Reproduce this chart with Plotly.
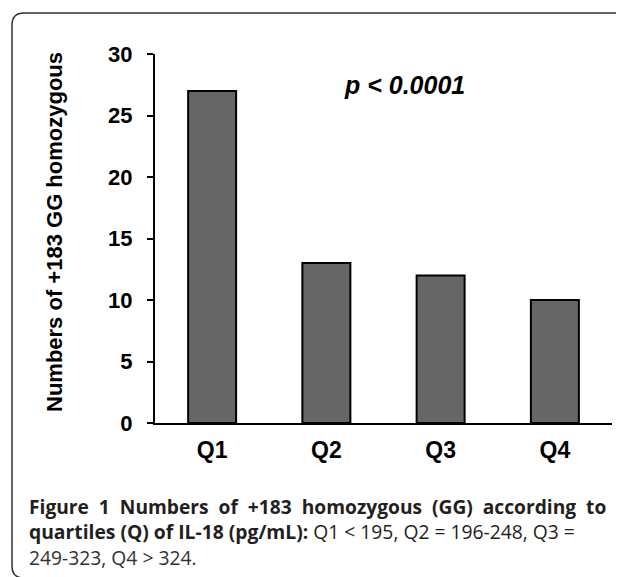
import plotly.graph_objects as go

categories = ["Q1", "Q2", "Q3", "Q4"]
counts = [27, 13, 12, 10]
y_ticks = [0, 5, 10, 15, 20, 25, 30]
y_title = "Numbers of +183 GG homozygous"
p_text = "p &lt; 0.0001"
caption_words_1 = ["Figure", "1", "Numbers", "of", "+183", "homozygous", "(GG)", "according", "to"]
caption_lines = [
    "<b>" + " &nbsp;".join(caption_words_1) + "</b>",
    "<b>quartiles (Q) of IL-18 (pg/mL):</b> Q1 &lt; 195, Q2 = 196-248, Q3 =",
    "249-323, Q4 &gt; 324.",
]

OFF = 8  # page body margin
W, H = 624 - OFF, 577 - OFF
L, R, T, B = 155 - OFF, 612 - OFF, 54 - OFF, 423 - OFF  # plot area in figure pixels
pw, ph = R - L, B - T

def px(x):  # x in screenshot pixels -> paper
    return (x - OFF - L) / pw

def py(y):
    return (B - (y - OFF)) / ph

fig = go.Figure()
fig.add_trace(go.Bar(
    x=list(range(len(categories))), y=counts, width=0.42,
    marker=dict(color="#666666", line=dict(color="#000000", width=2)),
))

arial = "Arial, Liberation Sans, sans-serif"
fig.update_layout(
    width=W, height=H,
    margin=dict(l=L, r=W - R, t=T, b=H - B, pad=0),
    plot_bgcolor="white", paper_bgcolor="white",
    showlegend=False,
    xaxis=dict(
        range=[-0.5, 3.5], tickmode="array",
        tickvals=list(range(len(categories))), ticktext=categories,
        showline=True, linecolor="black", linewidth=2, ticks="",
        showgrid=False, zeroline=False,
        tickfont=dict(family=arial, size=23, color="black", weight="bold"),
        ticklabelstandoff=5,
    ),
    yaxis=dict(
        range=[0, 30], tickmode="array", tickvals=y_ticks,
        showline=True, linecolor="black", linewidth=2,
        ticks="outside", ticklen=6, tickwidth=2, tickcolor="black",
        showgrid=False, zeroline=False,
        tickfont=dict(family=arial, size=22, color="black", weight="bold"),
        ticklabelstandoff=10,
    ),
)

fig.add_annotation(
    text="<b>" + y_title + "</b>", textangle=-90,
    x=px(55), y=py(232), xref="paper", yref="paper",
    xanchor="center", yanchor="middle", showarrow=False,
    font=dict(family=arial, size=22, color="black"),
)
fig.add_annotation(
    text="<b><i>" + p_text + "</i></b>",
    x=px(404), y=py(85), xref="paper", yref="paper",
    xanchor="center", yanchor="middle", showarrow=False,
    font=dict(family=arial, size=25, color="black"),
)
cap_y = [507, 531, 557]
cap_sizes = [19.2, 19.3, 19.3]
cap_colors = ["#231f20", "#231f20", "#333333"]
for line, yy, ss, cc in zip(caption_lines, cap_y, cap_sizes, cap_colors):
    fig.add_annotation(
        text=line, x=px(27), y=py(yy), xref="paper", yref="paper",
        xanchor="left", yanchor="middle", showarrow=False, align="left",
        font=dict(family="Open Sans, sans-serif", size=ss, color=cc),
    )

# rounded border
x0, y0, x1, y1, r = 12, 13, 640, 578, 12
path = (f"M {px(x0)},{py(y0 + r)} L {px(x0)},{py(y1 - r)} "
        f"Q {px(x0)},{py(y1)} {px(x0 + r)},{py(y1)} L {px(x1)},{py(y1)} "
        f"L {px(x1)},{py(y0)} L {px(x0 + r)},{py(y0)} "
        f"Q {px(x0)},{py(y0)} {px(x0)},{py(y0 + r)} Z")
fig.add_shape(type="path", path=path, xref="paper", yref="paper",
              line=dict(color="#333333", width=1.5), layer="below")

fig.write_html("out.html")
